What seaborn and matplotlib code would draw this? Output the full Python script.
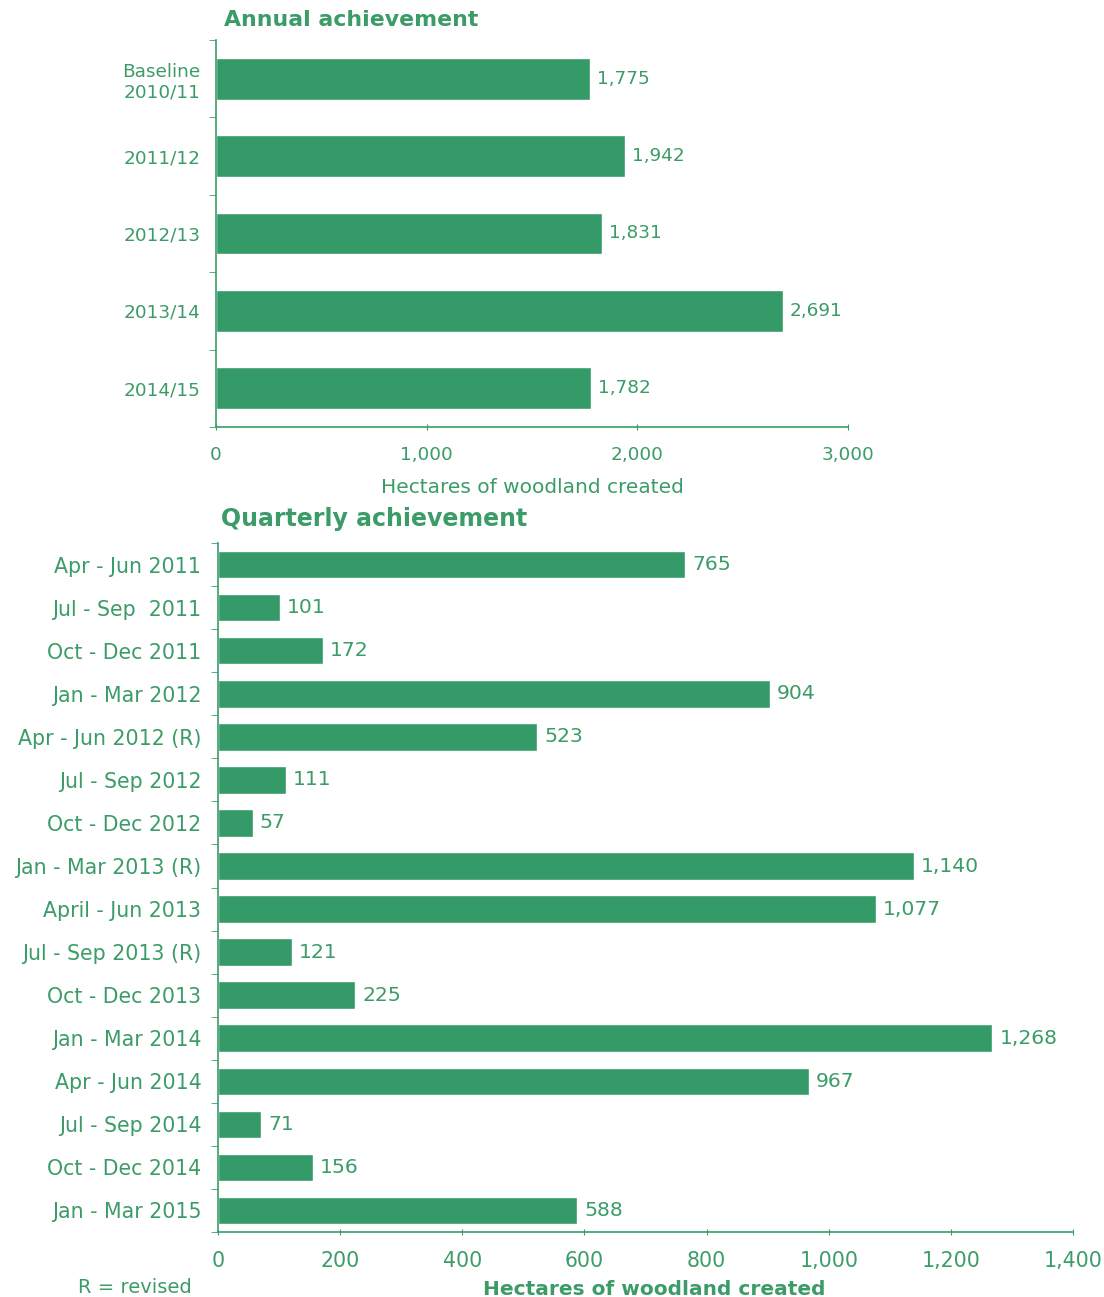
import numpy as np
import pandas as pd
import matplotlib
matplotlib.use("Agg")
import matplotlib.pyplot as plt
from matplotlib.ticker import FuncFormatter
import seaborn as sns

# Annual data
annual_labels = ["Baseline\n2010/11", "2011/12", "2012/13", "2013/14", "2014/15"]
annual_values = [1775, 1942, 1831, 2691, 1782]

# Quarterly data
quarter_labels = ["Apr - Jun 2011", "Jul - Sep  2011", "Oct - Dec 2011", "Jan - Mar 2012",
                  "Apr - Jun 2012 (R)", "Jul - Sep 2012", "Oct - Dec 2012", "Jan - Mar 2013 (R)",
                  "April - Jun 2013", "Jul - Sep 2013 (R)", "Oct - Dec 2013", "Jan - Mar 2014",
                  "Apr - Jun 2014", "Jul - Sep 2014", "Oct - Dec 2014", "Jan - Mar 2015"]
quarter_values = [765, 101, 172, 904, 523, 111, 57, 1140, 1077, 121, 225, 1268, 967, 71, 156, 588]

bar_color = "#349a68"
text_color = "#3b9c68"

sns.set_style("white")
plt.rcParams['font.family'] = ['DejaVu Sans']

fig = plt.figure(figsize=(11.04, 12.97), dpi=100)
ax1 = fig.add_axes([0.1957, 0.6708, 0.5725, 0.2984])
ax2 = fig.add_axes([0.1975, 0.0501, 0.7745, 0.5312])

df_a = pd.DataFrame({"period": annual_labels, "value": annual_values})
df_q = pd.DataFrame({"period": quarter_labels, "value": quarter_values})

sns.barplot(data=df_a, y="period", x="value", orient="h", color=bar_color,
            saturation=1, width=0.54, ax=ax1)
sns.barplot(data=df_q, y="period", x="value", orient="h", color=bar_color,
            saturation=1, width=0.64, ax=ax2)


def style_axis(ax, n, xmax, step, fs, vfs, pad):
    ax.set_xlim(0, xmax)
    ax.set_ylim(n - 0.5, -0.5)
    ax.set_xticks(np.arange(0, xmax + 1, step))
    ax.xaxis.set_major_formatter(FuncFormatter(lambda v, p: f"{v:,.0f}"))
    ax.set_yticks(np.arange(-0.5, n, 1), minor=True)
    ax.tick_params(axis="y", which="major", length=0, pad=pad, labelsize=fs, labelcolor=text_color)
    ax.tick_params(axis="y", which="minor", length=5, color=text_color, direction="out", left=True)
    ax.tick_params(axis="x", length=5, color=text_color, direction="inout", bottom=True,
                   pad=11, labelsize=fs, labelcolor=text_color)
    for s in ["top", "right"]:
        ax.spines[s].set_visible(False)
    for s in ["left", "bottom"]:
        ax.spines[s].set_color(text_color)
        ax.spines[s].set_linewidth(1.2)
    ax.set_ylabel("")
    ax.bar_label(ax.containers[0], labels=[f"{v:,.0f}" for v in ax.containers[0].datavalues],
                 padding=5, fontsize=vfs, color=text_color)


style_axis(ax1, len(annual_values), 3000, 1000, 13.3, 13.3, 11)
ax1.text(0.012, 1.025, "Annual achievement", transform=ax1.transAxes, fontsize=15.8,
         fontweight="bold", color=text_color, ha="left", va="bottom")
ax1.set_xlabel("Hectares of woodland created", fontsize=14.5, color=text_color, labelpad=10)
for lab in ax1.get_yticklabels():
    lab.set_multialignment("center")

style_axis(ax2, len(quarter_values), 1400, 200, 14.8, 14.7, 12)
ax2.text(0.004, 1.018, "Quarterly achievement", transform=ax2.transAxes, fontsize=17,
         fontweight="bold", color=text_color, ha="left", va="bottom")
ax2.set_xlabel("Hectares of woodland created", fontsize=14.5, color=text_color,
               fontweight="bold")
ax2.xaxis.set_label_coords(0.51, -0.083)
ax2.xaxis.label.set_va("center")
fig.text(0.122, 0.0077, "R = revised", fontsize=14, color=text_color, ha="center", va="center")

fig.savefig("out.png", dpi=100)
